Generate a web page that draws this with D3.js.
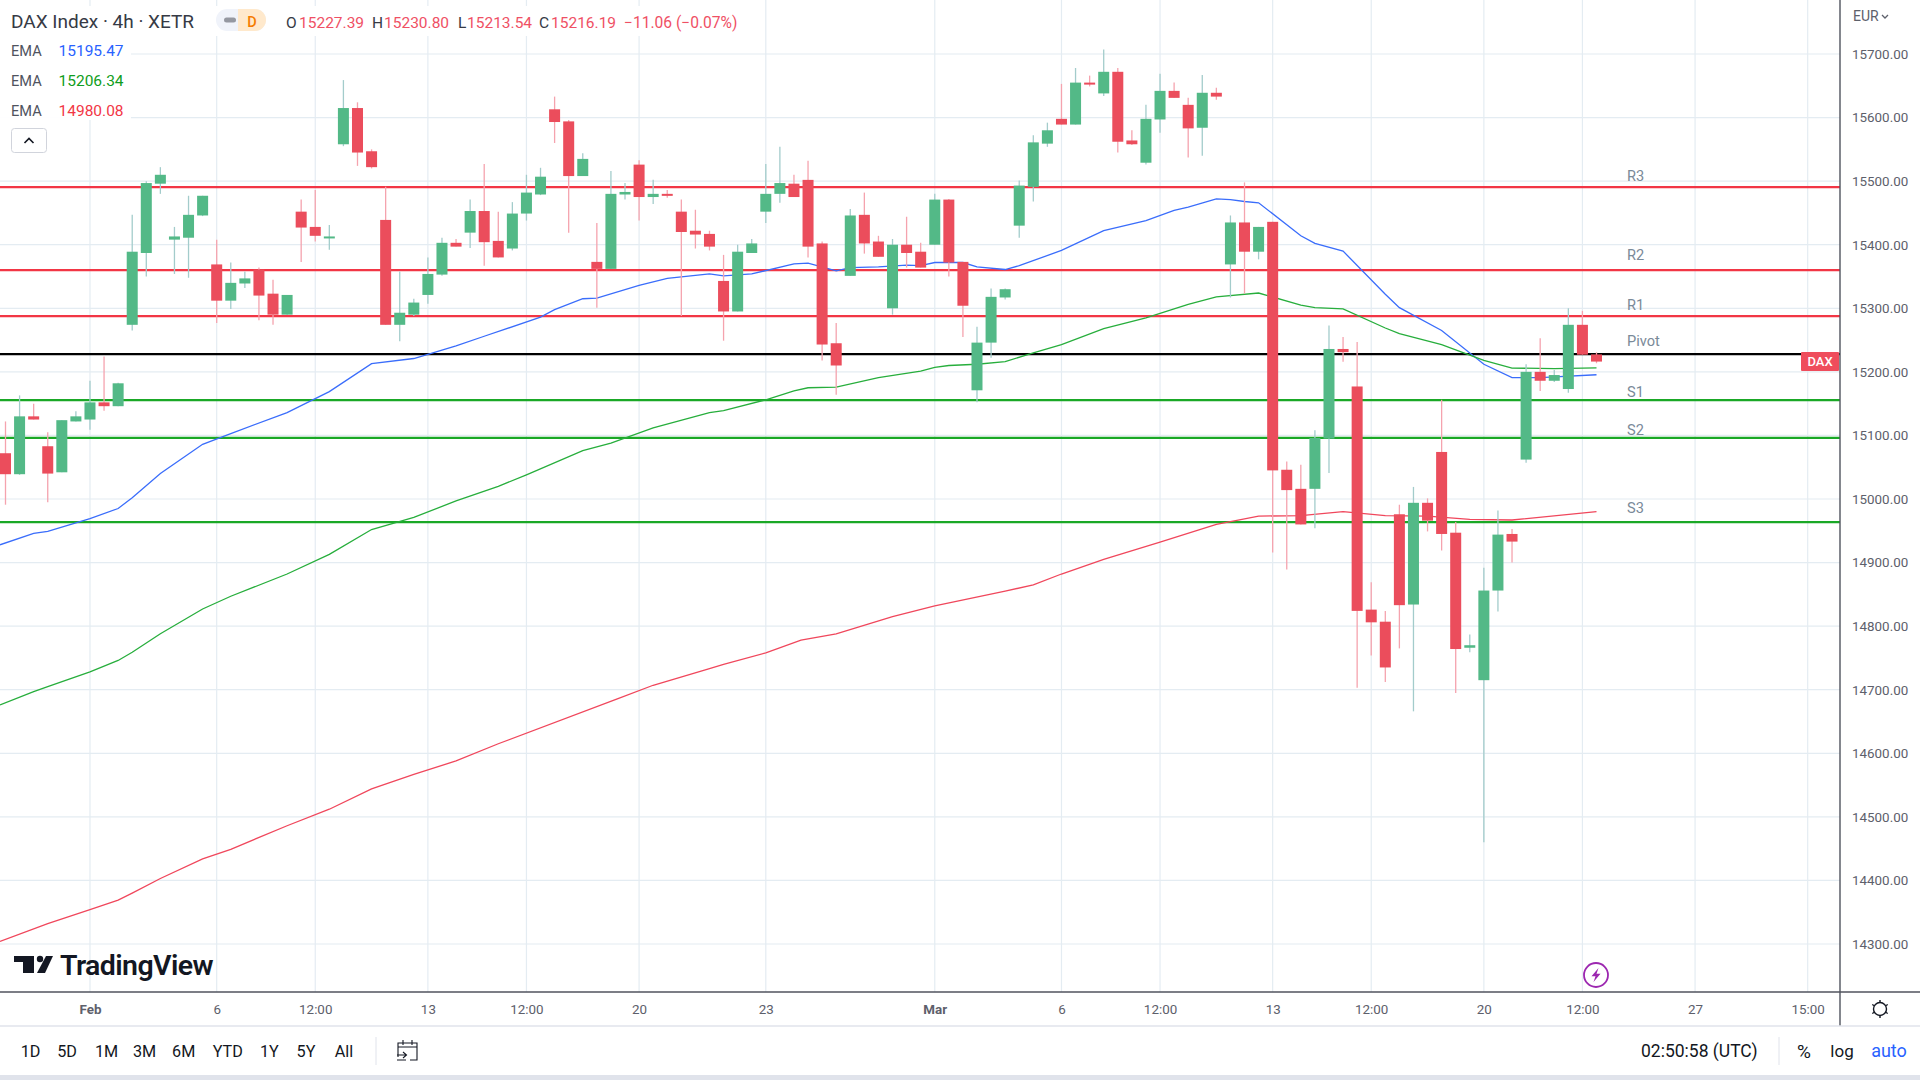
<!DOCTYPE html>
<html>
<head>
<meta charset="utf-8">
<title>DAX Index 4h</title>
<script src="https://d3js.org/d3.v7.min.js"></script>
<style>
html, body { margin: 0; padding: 0; background: #fff; overflow: hidden; }
svg { display: block; }
text { font-family: Roboto, sans-serif; }
.axis path, .axis line { display: none; }
.axis text { fill: #5d606b; font-size: 13.4px; font-family: Roboto, sans-serif; }
.grid line { stroke: #e4ecf2; stroke-width: 1.2; }
.level-label { fill: #7a8a99; font-size: 14.6px; }
.range-btn { fill: #131722; font-size: 16.2px; text-anchor: middle; }
</style>
</head>
<body>
<svg id="chart" width="1920" height="1080"></svg>
<script>
var opens = [
  15072,15039,15130,15083,15042,15122,15125,15152,15146,15274,
  15387,15496,15408,15411,15446,15369,15312,15339,15361,15323,
  15290,15452,15428,15411,15558,15615,15547,15439,15274,15290,
  15321,15353,15403,15419,15453,15406,15394,15449,15479,15613,
  15594,15508,15373,15362,15479,15526,15475,15480,15452,15422,
  15417,15343,15295,15387,15452,15480,15496,15502,15402,15245,
  15351,15447,15405,15300,15400,15389,15400,15471,15373,15171,
  15246,15317,15430,15491,15559,15598,15589,15655,15638,15672,
  15564,15529,15597,15642,15620,15584,15639,15369,15435,15389,
  15436,15046,15016,15016,15095,15236,15177,14826,14807,14976,
  14834,14994,15074,14947,14766,14715,14856,14945,15062,15200,
  15186,15173,15274,15227.39];
var highs = [
  15122,15163,15150,15105,15124,15138,15186,15224,15183,15447,
  15500,15522,15428,15477,15477,15408,15372,15358,15364,15345,
  15321,15471,15486,15431,15659,15624,15550,15491,15358,15315,
  15380,15411,15409,15471,15527,15452,15467,15510,15521,15633,
  15596,15544,15434,15516,15497,15533,15502,15486,15471,15455,
  15422,15384,15400,15409,15527,15554,15510,15532,15405,15277,
  15456,15482,15414,15409,15444,15403,15480,15472,15373,15271,
  15331,15331,15501,15572,15592,15653,15678,15666,15707,15678,
  15580,15620,15669,15655,15631,15667,15647,15446,15498,15428,
  15436,15059,15054,15108,15273,15255,15247,14869,14824,14991,
  15019,15001,15156,14964,14787,14892,14982,14953,15212,15253,
  15203,15300,15296,15230.8];
var lows = [
  14991,15038,15125,14995,15042,15122,15109,15139,15146,15265,
  15350,15480,15354,15348,15445,15277,15299,15332,15281,15274,
  15290,15373,15405,15392,15555,15524,15520,15274,15248,15288,
  15307,15351,15397,15395,15367,15380,15391,15438,15478,15560,
  15419,15508,15301,15362,15471,15438,15464,15474,15288,15394,
  15391,15249,15295,15387,15434,15466,15475,15380,15218,15164,
  15351,15386,15381,15290,15364,15364,15400,15350,15255,15152,
  15222,15314,15411,15468,15554,15589,15589,15649,15634,15545,
  15557,15526,15576,15631,15537,15540,15628,15317,15323,15377,
  14916,14889,14960,14954,15041,15216,14703,14754,14712,14765,
  14666,14949,14919,14695,14759,14460,14823,14900,15057,15170,
  15184,15167,15227,15213.54];
var closes = [
  15039,15130,15125,15040,15124,15130,15152,15146,15182,15389,
  15497,15510,15413,15447,15477,15312,15340,15347,15320,15290,
  15321,15427,15414,15413,15615,15545,15522,15274,15293,15309,
  15354,15403,15397,15453,15404,15380,15449,15482,15507,15593,
  15508,15535,15362,15480,15483,15475,15480,15477,15420,15416,
  15397,15295,15389,15402,15480,15497,15475,15397,15243,15210,
  15446,15402,15381,15400,15387,15364,15471,15372,15304,15246,
  15318,15330,15493,15561,15580,15589,15655,15654,15672,15562,
  15558,15598,15642,15631,15583,15639,15633,15435,15389,15428,
  15045,15014,14960,15096,15236,15231,14824,14806,14735,14833,
  14994,14966,14945,14764,14770,14856,14944,14933,15200,15186,
  15195,15274,15227,15216.19];

// EMA vertices: candle index and price
var emaBlueIdx = [-0.39,2,3,6,8,9,11,14,16,20,23,26,29,32,34,38,39,41,42,45,47,50,51,53,56,57,59,60,62,64,65,66,68,69,71,72,75,78,81,83,84,86,87,88,89,92,93,95,98,99,102,105,107,109,113];
var emaBlue = [14928,14946,14949,14969,14985,15002,15040,15086,15103,15136,15169,15213,15221,15241,15256,15286,15298,15315,15316,15336,15347,15354,15351,15354,15370,15371,15359,15364,15365,15368,15367,15372,15372,15365,15361,15367,15391,15422,15438,15454,15459,15472,15471,15468,15466,15414,15402,15390,15322,15301,15265,15212,15191,15191,15195.47];
var emaGreenIdx = [-0.39,2,3,6,8,9,11,14,16,20,23,26,29,32,35,37,41,43,46,50,51,54,56,57,59,62,65,66,67,69,71,73,75,78,81,84,86,89,92,93,95,98,99,102,105,107,110,113];
var emaGreen = [14676,14697,14705,14728,14746,14759,14788,14827,14847,14882,14913,14952,14971,14997,15020,15038,15076,15088,15112,15136,15139,15156,15170,15175,15176,15191,15201,15207,15210,15212,15216,15230,15243,15268,15285,15306,15318,15324,15305,15301,15299,15269,15260,15243,15218,15206,15205,15206.34];
var emaRedIdx = [-0.39,3,6,8,9,11,14,16,20,23,26,29,32,35,43.5,46,50,51,54,56.5,59,63,66,71,73,75,78,82,86,89,92,95,98,101,104,107,113];
var emaRed = [14304,14332,14354,14369,14380,14403,14434,14449,14486,14512,14544,14567,14588,14615,14686,14707,14733,14740,14758,14778,14788,14815,14832,14855,14865,14882,14905,14932,14960,14973,14974,14980,14974,14973,14968,14967,14980.08];

var levelNames = ['R3','R2','R1','Pivot','S1','S2','S3'];
var levelValues = [15490.7,15360,15287.8,15228,15155.6,15096,14963.7];
var levelColors = ['#f23645','#f23645','#f23645','#000000','#1aa826','#1aa826','#1aa826'];
var levelLabelY = [176,255,305,341,392,430,508];

var priceTicks = d3.range(14300,15701,100);
var timeTickIdx = [6,15,22,30,37,45,54,66,75,82,90,97,105,112,120,128];
var timeLabels = ['Feb','6','12:00','13','12:00','20','23','Mar','6','12:00','13','12:00','20','12:00','27','15:00'];
var rangeButtons = ['1D','5D','1M','3M','6M','YTD','1Y','5Y','All'];
var rangeButtonX = [30.6,67,106.5,144.5,183.7,227.8,269.4,306,344];

var UP = '#53b987', DOWN = '#eb4d5c', UP_WICK = '#a3cccb', DOWN_WICK = '#f5a3ae';
var svg = d3.select('#chart');

var x = d3.scaleLinear().domain([0,113]).range([5.5,1596.5]);
var y = d3.scaleLinear().domain([15700,14300]).range([54,944]);
var PANE_R = 1840, PANE_B = 992;

// clip to the price pane
svg.append('clipPath').attr('id','pane').append('rect')
  .attr('width',PANE_R).attr('height',PANE_B);
var pane = svg.append('g').attr('clip-path','url(#pane)');

// grid
var grid = pane.append('g').attr('class','grid');
grid.selectAll('.h').data(priceTicks).enter().append('line')
  .attr('x1',0).attr('x2',PANE_R).attr('y1',function(d){return y(d);}).attr('y2',function(d){return y(d);});
grid.selectAll('.v').data(timeTickIdx).enter().append('line')
  .attr('y1',0).attr('y2',PANE_B).attr('x1',function(d){return x(d);}).attr('x2',function(d){return x(d);});

// pivot levels
pane.selectAll('.level').data(levelValues).enter().append('line')
  .attr('x1',0).attr('x2',PANE_R)
  .attr('y1',function(d){return y(d);}).attr('y2',function(d){return y(d);})
  .attr('stroke',function(d,i){return levelColors[i];}).attr('stroke-width',2.2);
pane.selectAll('.level-label').data(levelNames).enter().append('text')
  .attr('class','level-label').attr('x',1627)
  .attr('y',function(d,i){return levelLabelY[i]+5;}).text(function(d){return d;});

// EMAs
function drawEma(idx, vals, color) {
  var line = d3.line().x(function(d){return x(d);}).y(function(d,i){return y(vals[i]);});
  pane.append('path').attr('d',line(idx)).attr('fill','none').attr('stroke',color).attr('stroke-width',1.3);
}
drawEma(emaBlueIdx,emaBlue,'#3a6dfb');
drawEma(emaGreenIdx,emaGreen,'#27ae3c');
drawEma(emaRedIdx,emaRed,'#f0475c');

// candles
var idx = d3.range(opens.length);
function isUp(i){ return closes[i] >= opens[i]; }
pane.selectAll('.wick').data(idx).enter().append('line')
  .attr('x1',function(i){return x(i);}).attr('x2',function(i){return x(i);})
  .attr('y1',function(i){return y(highs[i]);}).attr('y2',function(i){return y(lows[i]);})
  .attr('stroke',function(i){return isUp(i)?UP_WICK:DOWN_WICK;}).attr('stroke-width',1.3);
pane.selectAll('.body').data(idx).enter().append('rect')
  .attr('x',function(i){return x(i)-5.5;}).attr('width',11)
  .attr('y',function(i){return y(Math.max(opens[i],closes[i]));})
  .attr('height',function(i){return Math.max(2,Math.abs(y(opens[i])-y(closes[i])));})
  .attr('fill',function(i){return isUp(i)?UP:DOWN;});

// lightning mark
var bolt = pane.append('g').attr('transform','translate(1596,975)');
bolt.append('circle').attr('r',12).attr('fill','#fff').attr('stroke','#9c27b0').attr('stroke-width',1.8);
bolt.append('path').attr('d','M2.5-7L-4.5 1.2H-.5L-2.5 7L4.5-1.2H.5Z').attr('fill','#9c27b0');

// TradingView mark
var logo = svg.append('g');
logo.append('path').attr('fill','#131722')
  .attr('d','M14 956H34V973H23V962H14Z');
logo.append('circle').attr('cx',40).attr('cy',959).attr('r',3.2).attr('fill','#131722');
logo.append('path').attr('fill','#131722').attr('d','M46 956H53L45 973H37Z');
logo.append('text').attr('x',60).attr('y',975).attr('fill','#131722')
  .attr('font-family','Inter').attr('font-size',28.5).attr('font-weight',600).attr('letter-spacing',-0.6).text('TradingView');

// panes and frame
svg.append('rect').attr('x',0).attr('y',993).attr('width',1920).attr('height',87).attr('fill','#fff');
svg.append('rect').attr('x',1841).attr('y',0).attr('width',79).attr('height',1026).attr('fill','#fff');
svg.append('line').attr('x1',0).attr('x2',1920).attr('y1',992).attr('y2',992).attr('stroke','#50535e').attr('stroke-width',1.4);
svg.append('line').attr('x1',1840).attr('x2',1840).attr('y1',0).attr('y2',1026).attr('stroke','#50535e').attr('stroke-width',1.4);
svg.append('line').attr('x1',0).attr('x2',1920).attr('y1',1026).attr('y2',1026).attr('stroke','#e0e3eb').attr('stroke-width',1.4);
svg.append('rect').attr('x',0).attr('y',1075).attr('width',1920).attr('height',5).attr('fill','#e0e3eb');

// axes
var yAxis = d3.axisRight(y).tickValues(priceTicks).tickFormat(d3.format('.2f')).tickSize(0).tickPadding(12);
svg.append('g').attr('class','axis').attr('transform','translate(1840,0)').call(yAxis);
var xAxis = d3.axisBottom(x).tickValues(timeTickIdx)
  .tickFormat(function(d,i){return timeLabels[i];}).tickSize(0).tickPadding(0);
var xAxisG = svg.append('g').attr('class','axis').attr('transform','translate(0,1004)').call(xAxis);
xAxisG.selectAll('text').attr('font-weight',function(d,i){return /Feb|Mar/.test(timeLabels[i])?700:400;});

// EUR and DAX tags
svg.append('text').attr('x',1853).attr('y',21).attr('fill','#5d606b').attr('font-size',14).text('EUR');
svg.append('path').attr('d','M1882 15l3 3 3-3').attr('fill','none').attr('stroke','#5d606b').attr('stroke-width',1.3);
svg.append('rect').attr('x',1801).attr('y',352).attr('width',38).attr('height',19).attr('rx',1).attr('fill','#ef4d5c');
svg.append('text').attr('x',1820).attr('y',366).attr('text-anchor','middle').attr('fill','#fff').attr('font-size',13).attr('font-weight',500).text('DAX');

// legend
svg.append('rect').attr('x',0).attr('y',6).attr('width',745).attr('height',30).attr('fill','#fff');
svg.append('rect').attr('x',0).attr('y',36).attr('width',131).attr('height',84).attr('fill','#fff').attr('fill-opacity',0.95);
svg.append('text').attr('x',11).attr('y',27.5).attr('fill','#363a45').attr('font-size',19).text('DAX Index · 4h · XETR');
svg.append('rect').attr('x',216).attr('y',9).attr('width',50).attr('height',22).attr('rx',11).attr('fill','#f0f3fa');
svg.append('path').attr('d','M238 9H255A11 11 0 0 1 255 31H238Z').attr('fill','#ffe9cc');
svg.append('rect').attr('x',224).attr('y',17.5).attr('width',12).attr('height',5).attr('rx',2.5).attr('fill','#9598a1');
svg.append('text').attr('x',252).attr('y',26.5).attr('text-anchor','middle').attr('fill','#f57c00').attr('font-size',14.5).attr('font-weight',500).text('D');

var ohlcLabels = ['O','H','L','C'];
var ohlcValues = ['15227.39','15230.80','15213.54','15216.19'];
var ohlcLabelX = [286,372,458,539];
var ohlcValueX = [299,384,467,551];
ohlcLabels.forEach(function(l,i){
  svg.append('text').attr('x',ohlcLabelX[i]).attr('y',27.5).attr('fill','#363a45').attr('font-size',15.5).text(l);
  svg.append('text').attr('x',ohlcValueX[i]).attr('y',27.5).attr('fill','#ef5064').attr('font-size',15.5).text(ohlcValues[i]);
});
svg.append('text').attr('x',624).attr('y',27.5).attr('fill','#ef5064').attr('font-size',15.6).text('−11.06 (−0.07%)');

var emaLabels = ['15195.47','15206.34','14980.08'];
var emaColors = ['#2962ff','#0f9d20','#f23645'];
var emaRowY = [56,86,116];
emaLabels.forEach(function(l,i){
  svg.append('text').attr('x',11).attr('y',emaRowY[i]).attr('fill','#50535e').attr('font-size',14.6).text('EMA');
  svg.append('text').attr('x',58.5).attr('y',emaRowY[i]).attr('fill',emaColors[i]).attr('font-size',15.5).text(l);
});
svg.append('rect').attr('x',11.5).attr('y',128.5).attr('width',35).attr('height',24).attr('rx',3).attr('fill','#fff').attr('stroke','#d1d4dc');
svg.append('path').attr('d','M24.5 143l4.5-4.5 4.5 4.5').attr('fill','none').attr('stroke','#131722').attr('stroke-width',1.6);

// bottom bar
svg.selectAll('.range-btn').data(rangeButtons).enter().append('text')
  .attr('class','range-btn').attr('x',function(d,i){return rangeButtonX[i];}).attr('y',1056.5)
  .text(function(d){return d;});
svg.append('line').attr('x1',376).attr('x2',376).attr('y1',1037).attr('y2',1065).attr('stroke','#e0e3eb');
svg.append('path').attr('d','M398 1057V1043H417V1060H410M398 1047H417M403 1040V1045M412 1040V1045M397 1055H406M403 1052L406.5 1055L403 1058M397 1060H406')
  .attr('fill','none').attr('stroke','#131722').attr('stroke-width',1.1);
svg.append('text').attr('x',1641).attr('y',1057).attr('fill','#131722').attr('font-size',17.5).text('02:50:58 (UTC)');
svg.append('line').attr('x1',1779).attr('x2',1779).attr('y1',1037).attr('y2',1065).attr('stroke','#e0e3eb');
svg.append('text').attr('x',1804).attr('y',1057.5).attr('text-anchor','middle').attr('fill','#131722').attr('font-size',19).text('%');
svg.append('text').attr('x',1842).attr('y',1057).attr('text-anchor','middle').attr('fill','#131722').attr('font-size',17).text('log');
svg.append('text').attr('x',1889).attr('y',1057).attr('text-anchor','middle').attr('fill','#2962ff').attr('font-size',18).text('auto');

// settings gear
var gear = svg.append('g').attr('transform','translate(1880,1009)').attr('fill','none').attr('stroke','#131722').attr('stroke-width',1.4);
gear.append('circle').attr('r',6.5);
d3.range(0,360,60).forEach(function(a){
  gear.append('line').attr('x1',6.5).attr('x2',9).attr('transform','rotate('+(a+30)+')');
});
</script>
</body>
</html>
